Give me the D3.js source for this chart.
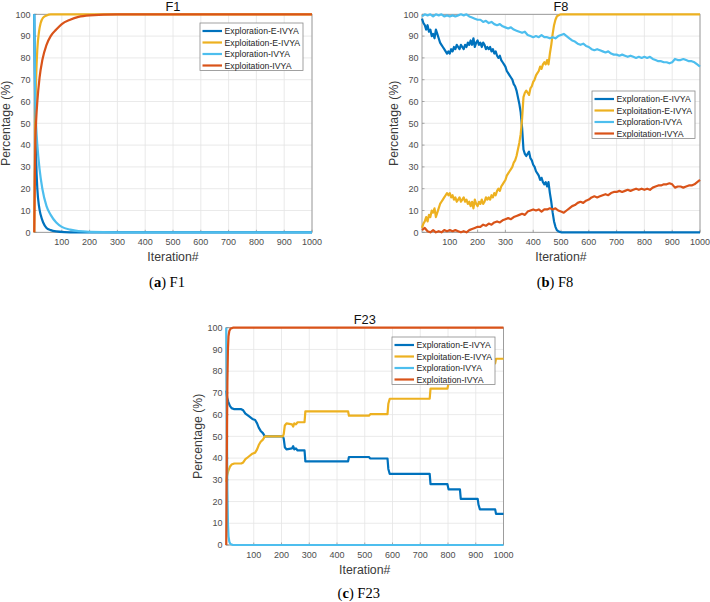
<!DOCTYPE html>
<html lang="en">
<head>
  <meta charset="UTF-8" />
  <title>Exploration / Exploitation percentage - F1, F8, F23</title>
  <script src="https://d3js.org/d3.v7.min.js"></script>
  <style>
    body { margin: 0; background: #fff; }
    svg { display: block; font-family: "Liberation Sans", Arial, Helvetica, sans-serif; }
    .tick-label { font-size: 9px; fill: #4d4d4d; }
    .axis-label { font-size: 12.3px; fill: #3a3a3a; }
    .title { font-size: 12.8px; fill: #111; }
    .legend text { font-size: 8.7px; fill: #262626; }
    .caption { font-family: "Liberation Serif", "Times New Roman", serif; font-size: 14.5px; fill: #000; }
  </style>
</head>
<body>
<svg id="chart" width="710" height="602"></svg>
<script>
  const seriesNames = ["Exploration-E-IVYA", "Exploitation-E-IVYA", "Exploration-IVYA", "Exploitation-IVYA"];
  const seriesColors = ["#0072bd", "#edb120", "#4dbeee", "#d95319"];
  const xTicks = [100, 200, 300, 400, 500, 600, 700, 800, 900, 1000];
  const yTicks = [0, 10, 20, 30, 40, 50, 60, 70, 80, 90, 100];

  // ---- F1 ----
  const f1IterE = [1, 3, 5, 8, 12, 18, 24, 33, 45, 60, 80, 110, 150, 1000];
  const f1ExploreE = [100, 75, 50, 32, 20, 12, 8, 4.5, 2, 1, 0.4, 0.1, 0, 0];
  const f1ExploitE = [0, 30, 55, 72, 84, 92, 96, 98.5, 99.5, 100, 100, 100, 100, 100];
  const f1IterI = [1, 3, 5, 8, 12, 20, 30, 45, 60, 80, 100, 130, 160, 200, 300, 1000];
  const f1ExploreI = [100, 75, 58, 48, 40, 29, 20, 12, 8, 4.5, 2.5, 1.2, 0.5, 0.2, 0, 0];
  const f1ExploitI = [0, 25, 42, 52, 60, 71, 79, 86, 90, 93, 95.5, 97.5, 98.8, 99.5, 100, 100];

  // ---- F8 ---- (E-IVYA every 5 iterations up to 500, then 1000; IVYA every 10)
  const f8IterE = d3.range(0, 501, 5).concat([1000]);
  const f8ExploreE = [
    98, 96, 95, 93, 95, 92, 93, 90, 91, 89,
    93, 91, 89, 87, 86, 85, 84, 83, 82, 83,
    82, 84, 83, 85, 84, 86, 85, 84, 86, 85,
    84, 86, 85, 87, 86, 88, 86, 89, 85, 87,
    88, 86, 87, 85, 87, 86, 84, 85, 84, 85,
    83, 84, 82, 83, 81, 80, 81, 79, 78, 77,
    76, 74, 73, 72, 71, 70, 68, 67, 65, 62,
    59, 55, 48, 38, 36, 35, 36, 37, 34, 33,
    31, 30, 28, 27, 26, 24, 25, 23, 22, 23,
    21, 23, 18, 14, 9, 5, 2.5, 1, 0.5, 0.2,
    0, 0];
  const f8ExploitE = [
    2, 4, 5, 7, 5, 8, 7, 10, 9, 11,
    7, 9, 11, 13, 14, 15, 16, 17, 18, 17,
    18, 16, 17, 15, 16, 14, 15, 16, 14, 15,
    16, 14, 15, 13, 14, 12, 14, 11, 15, 13,
    12, 14, 13, 15, 13, 14, 16, 15, 16, 15,
    17, 16, 18, 17, 19, 20, 19, 21, 22, 23,
    24, 26, 27, 28, 29, 30, 32, 33, 35, 38,
    41, 45, 52, 62, 64, 65, 64, 63, 66, 67,
    69, 70, 72, 73, 74, 76, 75, 77, 78, 77,
    79, 77, 82, 86, 91, 95, 97.5, 99, 99.5, 99.8,
    100, 100];
  const f8IterI = d3.range(0, 1001, 10);
  const f8ExploreI = [
    99, 100, 99.5, 100, 99, 100, 99.5, 100, 99, 99.5,
    99, 99.5, 99, 99.5, 100, 99.5, 100, 99, 98.5, 98,
    97.5, 97.5, 96.5, 97, 96, 96.5, 95.5, 95, 95.5, 94.5,
    94, 93.5, 94, 93, 92.5, 92, 91.5, 92, 90.5, 90,
    89.5, 90, 89.5, 90.5, 89.5, 89.5, 89, 89.5, 89, 90,
    90.5, 91, 90, 89, 88, 87.5, 86.5, 86, 86.5, 85.5,
    85, 84, 83.5, 84, 83.5, 83, 82.5, 83, 82, 81.5,
    81.5, 81, 81.5, 81, 80.5, 81, 80.5, 80, 80.5, 80,
    80.5, 80, 80.5, 79.5, 79, 78.5, 78.5, 78, 78, 77.5,
    78, 79.5, 79, 79, 79.5, 79, 78.5, 78.5, 78, 77,
    76];
  const f8ExploitI = [
    1, 2, 0.5, 0, 1, 0, 0.5, 0, 1, 0.5,
    1, 0.5, 1, 0.5, 0, 0.5, 0, 1, 1.5, 2,
    2.5, 2.5, 3.5, 3, 4, 3.5, 4.5, 5, 4.5, 5.5,
    6, 6.5, 6, 7, 7.5, 8, 8.5, 8, 9.5, 10,
    10.5, 10, 10.5, 9.5, 10.5, 10.5, 11, 10.5, 11, 10,
    9.5, 9, 10, 11, 12, 12.5, 13.5, 14, 13.5, 14.5,
    15, 16, 16.5, 16, 16.5, 17, 17.5, 17, 18, 18.5,
    18.5, 19, 18.5, 19, 19.5, 19, 19.5, 20, 19.5, 20,
    19.5, 20, 19.5, 20.5, 21, 21.5, 21.5, 22, 22, 22.5,
    22, 20.5, 21, 21, 20.5, 21, 21.5, 21.5, 22, 23,
    24];

  // ---- F23 ----
  const f23IterE = [1, 4, 8, 14, 20, 30, 55, 62, 70, 80, 95, 105, 112, 118, 125, 133, 140, 205, 208, 212,
    218, 238, 242, 246, 252, 258, 283, 286, 440, 443, 515, 520, 582, 585, 590, 734, 737, 798, 802, 843,
    846, 907, 910, 915, 970, 973, 1000];
  const f23ExploreE = [71, 68, 66, 64, 63, 62.5, 62.5, 62, 60.5, 59.5, 58, 57.5, 56, 54, 52.5, 51.5, 50, 50, 49, 45,
    44, 44.5, 45.5, 44, 44.5, 43.5, 43.5, 38.5, 38.5, 40.5, 40.5, 39.8, 39.8, 35, 32.7, 32.7, 28, 28, 25.6, 25.6,
    21.2, 21.2, 18.5, 16.4, 16.4, 14.3, 14.3];
  const f23ExploitE = [29, 32, 34, 36, 37, 37.5, 37.5, 38, 39.5, 40.5, 42, 42.5, 44, 46, 47.5, 48.5, 50, 50, 51, 55,
    56, 55.5, 54.5, 56, 55.5, 56.5, 56.5, 61.5, 61.5, 59.5, 59.5, 60.2, 60.2, 65, 67.3, 67.3, 72, 72, 74.4, 74.4,
    78.8, 78.8, 81.5, 83.6, 83.6, 85.7, 85.7];
  const f23IterI = [1, 3, 5, 7, 9, 12, 16, 25, 1000];
  const f23ExploreI = [100, 60, 25, 10, 4, 1.5, 0.5, 0, 0];
  const f23ExploitI = [0, 40, 75, 90, 96, 98.5, 99.5, 100, 100];

  const pair = (xs, ys) => ys.map((v, i) => [xs[i], v]);

  const panels = [
    { title: "F1", letter: "a", left: 34, top: 14.3, w: 278, h: 218, legend: [200, 23], capDy: 55, curve: d3.curveMonotoneX,
      series: [pair(f1IterE, f1ExploreE), pair(f1IterE, f1ExploitE), pair(f1IterI, f1ExploreI), pair(f1IterI, f1ExploitI)] },
    { title: "F8", letter: "b", left: 422, top: 14.3, w: 278, h: 218, legend: [592, 91], capDy: 55, curve: d3.curveLinear,
      series: [pair(f8IterE, f8ExploreE), pair(f8IterE, f8ExploitE), pair(f8IterI, f8ExploreI), pair(f8IterI, f8ExploitI)] },
    { title: "F23", letter: "c", left: 226, top: 327.7, w: 277.5, h: 217.3, legend: [392, 337], capDy: 52.5, curve: d3.curveLinear,
      series: [pair(f23IterE, f23ExploreE), pair(f23IterE, f23ExploitE), pair(f23IterI, f23ExploreI), pair(f23IterI, f23ExploitI)] }
  ];

  const svg = d3.select("#chart");

  panels.forEach(p => {
    const x = d3.scaleLinear().domain([0, 1000]).range([p.left, p.left + p.w]);
    const y = d3.scaleLinear().domain([0, 100]).range([p.top + p.h, p.top]);
    const g = svg.append("g");

    // grid
    g.selectAll("line.vgrid").data(xTicks).join("line")
      .attr("x1", d => x(d)).attr("x2", d => x(d))
      .attr("y1", p.top).attr("y2", p.top + p.h)
      .attr("stroke", "#e4e4e4").attr("stroke-width", 0.8);
    g.selectAll("line.hgrid").data(yTicks).join("line")
      .attr("x1", p.left).attr("x2", p.left + p.w)
      .attr("y1", d => y(d)).attr("y2", d => y(d))
      .attr("stroke", "#e4e4e4").attr("stroke-width", 0.8);

    // frame
    g.append("rect")
      .attr("x", p.left).attr("y", p.top).attr("width", p.w).attr("height", p.h)
      .attr("fill", "none").attr("stroke", "#8a8a8a").attr("stroke-width", 0.8);

    // little inward ticks
    g.selectAll("line.xt").data(xTicks).join("line")
      .attr("x1", d => x(d)).attr("x2", d => x(d))
      .attr("y1", p.top + p.h).attr("y2", p.top + p.h - 2.5)
      .attr("stroke", "#8a8a8a").attr("stroke-width", 0.7);
    g.selectAll("line.yt").data(yTicks).join("line")
      .attr("x1", p.left).attr("x2", p.left + 2.5)
      .attr("y1", d => y(d)).attr("y2", d => y(d))
      .attr("stroke", "#8a8a8a").attr("stroke-width", 0.7);

    // tick labels
    g.selectAll("text.xl").data(xTicks).join("text")
      .attr("class", "tick-label")
      .attr("x", d => x(d)).attr("y", p.top + p.h + 12.5)
      .attr("text-anchor", "middle").text(d => d);
    g.selectAll("text.yl").data(yTicks).join("text")
      .attr("class", "tick-label")
      .attr("x", p.left - 3.5).attr("y", d => y(d) + 3.2)
      .attr("text-anchor", "end").text(d => d);

    // axis labels + title
    g.append("text").attr("class", "axis-label")
      .attr("x", p.left + p.w / 2).attr("y", p.top + p.h + 29)
      .attr("text-anchor", "middle").text("Iteration#");
    g.append("text").attr("class", "axis-label")
      .attr("transform", `translate(${p.left - 24},${p.top + p.h / 2}) rotate(-90)`)
      .attr("text-anchor", "middle").text("Percentage (%)");
    g.append("text").attr("class", "title")
      .attr("x", p.left + p.w / 2).attr("y", p.top - 3.3)
      .attr("text-anchor", "middle").text(p.title);

    // lines
    const line = d3.line().x(d => x(d[0])).y(d => y(d[1])).curve(p.curve);
    p.series.forEach((s, i) => {
      g.append("path").datum(s)
        .attr("d", line)
        .attr("fill", "none")
        .attr("stroke", seriesColors[i])
        .attr("stroke-width", 2.2)
        .attr("stroke-linejoin", "round");
    });

    // legend
    const lg = g.append("g").attr("class", "legend")
      .attr("transform", `translate(${p.legend[0]},${p.legend[1]})`);
    lg.append("rect").attr("width", 103).attr("height", 47.5)
      .attr("fill", "#fff").attr("stroke", "#8a8a8a").attr("stroke-width", 0.8);
    const rows = lg.selectAll("g.row").data(seriesNames).join("g")
      .attr("transform", (d, i) => `translate(0,${8 + i * 11.5})`);
    rows.append("line").attr("x1", 2.5).attr("x2", 22).attr("y1", 0).attr("y2", 0)
      .attr("stroke", (d, i) => seriesColors[i]).attr("stroke-width", 2.2);
    rows.append("text").attr("x", 24.5).attr("y", 3).text(d => d);

    // caption
    const cap = g.append("text").attr("class", "caption")
      .attr("x", p.left + p.w / 2 - 6).attr("y", p.top + p.h + p.capDy)
      .attr("text-anchor", "middle");
    cap.append("tspan").text("(");
    cap.append("tspan").attr("font-weight", "bold").text(p.letter);
    cap.append("tspan").text(") " + p.title);
  });
</script>
</body>
</html>
